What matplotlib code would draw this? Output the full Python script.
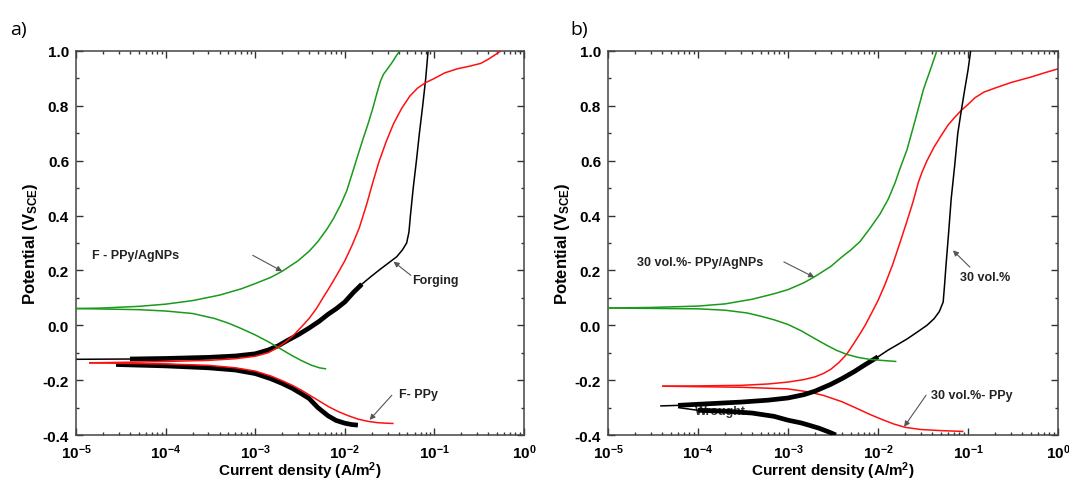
import numpy as np
import matplotlib
matplotlib.use("Agg")
import matplotlib.pyplot as plt
from matplotlib.ticker import LogLocator, MultipleLocator, NullFormatter

plt.rcParams['font.family'] = ['Liberation Sans', 'DejaVu Sans']
plt.rcParams['mathtext.fontset'] = 'custom'
plt.rcParams['mathtext.rm'] = 'Liberation Sans:bold'
plt.rcParams['mathtext.bf'] = 'Liberation Sans:bold'
plt.rcParams['mathtext.it'] = 'Liberation Sans:bold'

# ---------------- data: panel a ----------------
a_green_an_x = [1e-5, 2e-5, 5e-5, 1e-4, 2e-4, 4e-4, 7e-4, 1e-3, 1.5e-3, 2e-3, 3e-3, 4e-3, 5e-3, 6.3e-3, 7.5e-3, 9e-3,
                1.05e-2, 1.2e-2, 1.4e-2, 1.6e-2, 1.8e-2, 2.05e-2, 2.3e-2, 2.5e-2, 2.7e-2, 3e-2, 3.4e-2, 3.8e-2, 4.1e-2]
a_green_an_y = [0.061, 0.063, 0.069, 0.077, 0.090, 0.110, 0.133, 0.152, 0.175, 0.197, 0.235, 0.27, 0.305, 0.35, 0.39, 0.44,
                0.49, 0.55, 0.62, 0.68, 0.73, 0.79, 0.85, 0.89, 0.915, 0.935, 0.96, 0.985, 1.0]
a_green_ca_x = [1e-5, 5e-5, 1e-4, 2e-4, 3.5e-4, 5e-4, 7e-4, 1e-3, 1.4e-3, 1.9e-3, 2.5e-3, 3.2e-3, 4.2e-3, 5.2e-3, 6.2e-3]
a_green_ca_y = [0.061, 0.057, 0.052, 0.043, 0.025, 0.008, -0.012, -0.035, -0.06, -0.085, -0.108, -0.127, -0.145, -0.155, -0.159]

a_red_an_x = [1.4e-5, 5e-5, 1e-4, 3e-4, 6e-4, 1e-3, 1.4e-3, 1.8e-3, 2.2e-3, 2.7e-3, 3.3e-3, 4e-3, 4.8e-3, 5.7e-3, 6.8e-3,
              8.2e-3, 1e-2, 1.2e-2, 1.45e-2, 1.75e-2, 2.05e-2, 2.4e-2, 2.9e-2, 3.5e-2, 4.3e-2, 5.3e-2, 6.5e-2, 8e-2,
              1e-1, 1.3e-1, 1.8e-1, 2.5e-1, 3.3e-1, 4e-1, 4.7e-1, 5.5e-1]
a_red_an_y = [-0.137, -0.134, -0.132, -0.128, -0.122, -0.113, -0.10, -0.08, -0.06, -0.035, -0.005, 0.025, 0.06, 0.10, 0.14,
              0.185, 0.235, 0.29, 0.355, 0.44, 0.52, 0.595, 0.67, 0.735, 0.79, 0.835, 0.865, 0.885,
              0.90, 0.92, 0.935, 0.945, 0.955, 0.97, 0.985, 1.0]
a_red_ca_x = [1.4e-5, 1e-4, 3e-4, 6e-4, 1e-3, 1.5e-3, 2e-3, 2.6e-3, 3.3e-3, 4.2e-3, 5.3e-3, 6.7e-3, 8.5e-3, 1.1e-2,
              1.4e-2, 1.8e-2, 2.3e-2, 2.9e-2, 3.5e-2]
a_red_ca_y = [-0.137, -0.141, -0.146, -0.155, -0.167, -0.185, -0.202, -0.219, -0.237, -0.258, -0.278, -0.298, -0.315, -0.33,
              -0.342, -0.35, -0.355, -0.357, -0.358]

a_blk_an_x = [1e-5, 4e-5, 1e-4, 3e-4, 6e-4, 1e-3, 1.4e-3, 1.8e-3, 2.3e-3, 3e-3, 4e-3, 5.2e-3, 6.5e-3, 8e-3, 1e-2, 1.25e-2,
              1.55e-2, 2e-2, 2.5e-2, 3.1e-2, 3.8e-2, 4.4e-2, 4.9e-2, 5.2e-2, 5.4e-2, 5.8e-2, 6.3e-2, 6.8e-2, 7.4e-2, 8e-2, 8.5e-2]
a_blk_an_y = [-0.124, -0.123, -0.121, -0.117, -0.112, -0.104, -0.09, -0.075, -0.055, -0.035, -0.01, 0.015, 0.04, 0.06, 0.085, 0.12,
              0.15, 0.18, 0.205, 0.228, 0.25, 0.275, 0.30, 0.34, 0.40, 0.50, 0.60, 0.70, 0.80, 0.90, 1.0]
a_blk_ca_x = [2.8e-5, 1e-4, 3e-4, 6e-4, 1e-3, 1.5e-3, 2e-3, 2.6e-3, 3.3e-3, 4e-3, 5e-3, 6.5e-3, 8e-3, 1e-2, 1.2e-2, 1.4e-2]
a_blk_ca_y = [-0.143, -0.148, -0.155, -0.163, -0.176, -0.195, -0.212, -0.23, -0.25, -0.267, -0.30, -0.33, -0.347, -0.357, -0.362, -0.364]

# ---------------- data: panel b ----------------
b_green_an_x = [1e-5, 3e-5, 1e-4, 2e-4, 4e-4, 7e-4, 1e-3, 1.5e-3, 2e-3, 3e-3, 4e-3, 5e-3, 6.3e-3, 8e-3, 1.05e-2, 1.3e-2,
                1.55e-2, 1.75e-2, 2.1e-2, 2.6e-2, 3.2e-2, 3.8e-2, 4.5e-2]
b_green_an_y = [0.063, 0.065, 0.07, 0.078, 0.095, 0.115, 0.13, 0.155, 0.178, 0.215, 0.25, 0.275, 0.305, 0.35, 0.405, 0.46,
                0.52, 0.57, 0.64, 0.75, 0.86, 0.93, 1.0]
b_green_ca_x = [1e-5, 1e-4, 2e-4, 3.5e-4, 5e-4, 7e-4, 1e-3, 1.4e-3, 1.9e-3, 2.7e-3, 3.5e-3, 4.5e-3, 6e-3, 8e-3, 1.1e-2, 1.6e-2]
b_green_ca_y = [0.063, 0.06, 0.055, 0.045, 0.033, 0.02, 0.003, -0.02, -0.045, -0.073, -0.092, -0.106, -0.117, -0.124, -0.128, -0.132]

b_red_an_x = [4e-5, 1e-4, 3e-4, 6e-4, 1e-3, 1.5e-3, 2e-3, 2.5e-3, 3e-3, 3.7e-3, 4.5e-3, 5.3e-3, 6.2e-3, 7.2e-3, 8.5e-3,
              1e-2, 1.2e-2, 1.45e-2, 1.75e-2, 2.1e-2, 2.45e-2, 2.8e-2, 3.1e-2, 3.5e-2, 4.2e-2, 5e-2, 6e-2, 7.2e-2,
              8.5e-2, 1e-1, 1.2e-1, 1.5e-1, 2e-1, 3e-1, 5e-1, 7e-1, 1.0]
b_red_an_y = [-0.222, -0.221, -0.219, -0.214, -0.207, -0.198, -0.188, -0.175, -0.16, -0.135, -0.105, -0.07, -0.035, 0.0, 0.045,
              0.09, 0.15, 0.22, 0.30, 0.38, 0.45, 0.52, 0.56, 0.60, 0.65, 0.69, 0.73, 0.76,
              0.785, 0.805, 0.83, 0.85, 0.865, 0.885, 0.905, 0.92, 0.935]
b_red_ca_x = [4e-5, 3e-4, 1e-3, 1.7e-3, 2.5e-3, 4e-3, 6e-3, 8e-3, 1.1e-2, 1.5e-2, 2e-2, 3e-2, 5e-2, 8.9e-2]
b_red_ca_y = [-0.222, -0.226, -0.232, -0.243, -0.256, -0.279, -0.305, -0.324, -0.343, -0.36, -0.372, -0.38, -0.384, -0.387]

b_blk_an_x = [3.8e-5, 6e-5, 1e-4, 3e-4, 6e-4, 1e-3, 1.5e-3, 2e-3, 3e-3, 4e-3, 5.5e-3, 7e-3, 1e-2, 1.3e-2, 1.6e-2, 2.1e-2,
              2.75e-2, 3.5e-2, 4.2e-2, 4.8e-2, 5.3e-2, 5.5e-2, 5.7e-2, 6.1e-2, 6.5e-2, 7.1e-2, 7.7e-2, 8.4e-2, 9.2e-2, 1e-1, 1.07e-1]
b_blk_an_y = [-0.294, -0.292, -0.288, -0.28, -0.273, -0.265, -0.253, -0.24, -0.215, -0.194, -0.168, -0.146, -0.115, -0.09, -0.073, -0.05,
              -0.024, 0.0, 0.024, 0.05, 0.085, 0.15, 0.22, 0.34, 0.46, 0.58, 0.70, 0.78, 0.86, 0.93, 1.0]
b_blk_ca_x = [6e-5, 1e-4, 2e-4, 4e-4, 7e-4, 1e-3, 1.4e-3, 1.7e-3, 2.2e-3, 2.9e-3, 3.4e-3]
b_blk_ca_y = [-0.30, -0.31, -0.313, -0.32, -0.332, -0.346, -0.356, -0.364, -0.375, -0.39, -0.40]

xtick_vals = [1e-5, 1e-4, 1e-3, 1e-2, 1e-1, 1e0]
xtick_labels = [r'$10^{-5}$', r'$10^{-4}$', r'$10^{-3}$', r'$10^{-2}$', r'$10^{-1}$', r'$10^{0}$']
ytick_vals = [-0.4, -0.2, 0.0, 0.2, 0.4, 0.6, 0.8, 1.0]

GREEN = '#1a9a1a'
RED = '#ff1010'
BLACK = '#000000'

fig = plt.figure(figsize=(10.69, 4.81), dpi=100)
axA = fig.add_axes([76/1069, 1-436/481, 448/1069, 384/481])
axB = fig.add_axes([608/1069, 1-436/481, 450/1069, 384/481])


def style(ax):
    ax.set_xscale('log')
    ax.set_xlim(1e-5, 1)
    ax.set_ylim(-0.4, 1.0)
    ax.set_xticks(xtick_vals)
    ax.set_xticklabels(xtick_labels)
    ax.xaxis.set_minor_locator(LogLocator(base=10, subs=np.arange(2, 10), numticks=20))
    ax.xaxis.set_minor_formatter(NullFormatter())
    ax.set_yticks(ytick_vals)
    ax.set_yticklabels(['%.1f' % v for v in ytick_vals])
    ax.yaxis.set_minor_locator(MultipleLocator(0.1))
    ax.tick_params(which='both', direction='in', top=True, right=True, colors='#333333',
                   labelcolor='black', width=1.0)
    ax.tick_params(which='major', length=5, labelsize=11, pad=5)
    ax.tick_params(which='minor', length=2.5)
    for lbl in ax.get_xticklabels() + ax.get_yticklabels():
        lbl.set_fontweight('bold')
    for s in ax.spines.values():
        s.set_color('#444444')
        s.set_linewidth(1.1)
    ax.set_xlabel(r'Current density (A/m$^{2}$)', fontsize=11, fontweight='bold', labelpad=-1)
    ax.set_ylabel(r'Potential (V$_{\mathrm{SCE}}$)', fontsize=12, fontweight='bold', labelpad=2)


def branch(ax, x, y, color, thick_range=None, z=2):
    ax.plot(x, y, color=color, lw=1.1, zorder=z, solid_capstyle='butt', solid_joinstyle='round')
    if thick_range is not None:
        x = np.asarray(x); y = np.asarray(y)
        m = (x >= thick_range[0]) & (x <= thick_range[1])
        ax.plot(x[m], y[m], color=color, lw=3.4, zorder=z, solid_capstyle='butt', solid_joinstyle='round')


arrow_kw = dict(arrowstyle='-|>', color='#555555', lw=0.8, mutation_scale=8, shrinkA=0, shrinkB=0)
ann_font = dict(fontsize=9, fontweight='bold', color='#222222')

# ---- panel a ----
style(axA)
branch(axA, a_blk_an_x, a_blk_an_y, BLACK, (4e-5, 1.55e-2), z=2)
branch(axA, a_blk_ca_x, a_blk_ca_y, BLACK, (2.8e-5, 1.4e-2), z=2)
branch(axA, a_green_an_x, a_green_an_y, GREEN, z=3)
branch(axA, a_green_ca_x, a_green_ca_y, GREEN, z=3)
branch(axA, a_red_an_x, a_red_an_y, RED, z=4)
branch(axA, a_red_ca_x, a_red_ca_y, RED, z=4)

axA.text(1.5e-5, 0.255, 'F - PPy/AgNPs', ha='left', va='center', **ann_font)
axA.annotate('', xy=(2.0e-3, 0.197), xytext=(9.4e-4, 0.255), arrowprops=arrow_kw)
axA.text(0.057, 0.164, 'Forging', ha='left', va='center', **ann_font)
axA.annotate('', xy=(0.035, 0.232), xytext=(0.0546, 0.182), arrowprops=arrow_kw)
axA.text(0.04, -0.249, 'F- PPy', ha='left', va='center', **ann_font)
axA.annotate('', xy=(0.0189, -0.345), xytext=(0.0335, -0.255), arrowprops=arrow_kw)
fig.text(10/1069, 1-30/481, 'a)', fontsize=14, family='Open Sans', ha='left', va='center')

# ---- panel b ----
style(axB)
axB.text(9.3e-5, -0.3125, 'Wrought', ha='left', va='center', fontsize=9, fontweight='bold',
         color='#333333', zorder=1)
branch(axB, b_red_an_x, b_red_an_y, RED, z=2)
branch(axB, b_red_ca_x, b_red_ca_y, RED, z=2)
branch(axB, b_blk_an_x, b_blk_an_y, BLACK, (6e-5, 1.1e-2), z=3)
branch(axB, b_blk_ca_x, b_blk_ca_y, BLACK, (1e-4, 3.4e-3), z=3)
branch(axB, b_green_an_x, b_green_an_y, GREEN, z=4)
branch(axB, b_green_ca_x, b_green_ca_y, GREEN, z=4)

axB.text(2.09e-5, 0.231, '30 vol.%- PPy/AgNPs', ha='left', va='center', **ann_font)
axB.annotate('', xy=(1.96e-3, 0.175), xytext=(9.0e-4, 0.231), arrowprops=arrow_kw)
axB.text(0.081, 0.176, '30 vol.%', ha='left', va='center', **ann_font)
axB.annotate('', xy=(0.068, 0.273), xytext=(0.105, 0.212), arrowprops=arrow_kw)
axB.text(0.039, -0.255, '30 vol.%- PPy', ha='left', va='center', **ann_font)
axB.annotate('', xy=(0.0195, -0.37), xytext=(0.0342, -0.255), arrowprops=arrow_kw)
fig.text(570/1069, 1-30/481, 'b)', fontsize=14, family='Open Sans', ha='left', va='center')

fig.savefig('out.png', dpi=100)
